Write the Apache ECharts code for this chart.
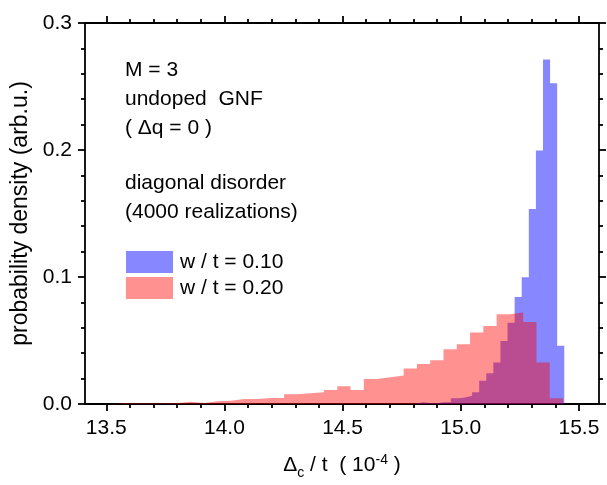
<!DOCTYPE html>
<html>
<head>
<meta charset="utf-8">
<script src="https://cdn.jsdelivr.net/npm/echarts@6/dist/echarts.min.js"></script>
<style>
  html, body { margin: 0; padding: 0; background: #fff; }
  #chart { width: 607px; height: 485px; }
</style>
</head>
<body>
<div id="chart"></div>
<script>
// histogram bins: first left edge, bin width, densities
var blueName = 'w / t = 0.10'
var blueStart = 14.808
var blueWidth = 0.030
var blueValues = [0.0013, 0.0008, 0.0006, 0.0013, 0.0013, 0.0045, 0.0052, 0.0065, 0.0092, 0.0183,
  0.0243, 0.0327, 0.0497, 0.064, 0.0842, 0.0999, 0.1536, 0.1996, 0.2713, 0.2525, 0.0458]

var redName = 'w / t = 0.20'
var redStart = 13.522
var redWidth = 0.0562
var redValues = [0.0005, 0.0005, 0.0005, 0.0005, 0.0008, 0.0018, 0.0008, 0.0021, 0.0026, 0.004,
  0.004, 0.0047, 0.0047, 0.0076, 0.0084, 0.0092, 0.011, 0.0139, 0.011, 0.0196,
  0.021, 0.0225, 0.028, 0.0314, 0.0345, 0.0432, 0.0471, 0.0563, 0.0615, 0.0706,
  0.072, 0.0646, 0.0327, 0.0045]

var xMajorTicks = [13.5, 14.0, 14.5, 15.0, 15.5]
var xMinorTicks = [13.6, 13.7, 13.8, 13.9, 14.1, 14.2, 14.3, 14.4, 14.6, 14.7, 14.8, 14.9,
  15.1, 15.2, 15.3, 15.4]

var notes = ['M = 3', 'undoped  GNF', '( \u0394q = 0 )', 'diagonal disorder', '(4000 realizations)']
var notesY = [70, 99, 128, 183, 212]

var FONT = '"Liberation Sans", Arial, sans-serif'

// step outline of a histogram, used by a step line with filled area
function stepData(start, width, values) {
  var d = [[start, 0]]
  values.forEach(function(v, i) {
    d.push([start + i * width, v])
  })
  var end = start + values.length * width
  d.push([end, values[values.length - 1]])
  d.push([end, 0])
  return d
}

var lineStyle = { color: '#000', width: 1.8 }

function xAxis(position, ticks, len, showLine) {
  return {
    type: 'value',
    position: position,
    min: 13.41,
    max: 15.585,
    axisLine: { show: showLine, lineStyle: lineStyle },
    axisTick: { show: true, inside: false, length: len, customValues: ticks, lineStyle: lineStyle },
    axisLabel: { show: false },
    splitLine: { show: false }
  }
}

function yAxis(position, showLabel) {
  return {
    type: 'value',
    position: position,
    min: 0,
    max: 0.3,
    interval: 0.1,
    axisLine: { show: true, lineStyle: lineStyle },
    axisTick: { show: true, inside: false, length: 7, lineStyle: lineStyle },
    minorTick: { show: true, splitNumber: 5, length: 4, lineStyle: lineStyle },
    axisLabel: {
      show: showLabel,
      margin: 13,
      fontSize: 21,
      fontFamily: FONT,
      color: '#000',
      formatter: function(v) { return v.toFixed(1) }
    },
    splitLine: { show: false },
    minorSplitLine: { show: false }
  }
}

var xMain = xAxis('bottom', xMajorTicks, 7, true)
xMain.axisLabel = {
  show: true,
  customValues: xMajorTicks,
  margin: 14,
  fontSize: 21,
  fontFamily: FONT,
  color: '#000',
  formatter: function(v) { return v.toFixed(1) }
}
xMain.name = '{n|\u0394}{sub|c}{n| / t  ( 10}{sup|-4}{n| )}'
xMain.nameLocation = 'middle'
xMain.nameGap = 48
xMain.nameTextStyle = {
  fontFamily: FONT,
  color: '#000',
  rich: {
    n: { fontSize: 21, fontFamily: FONT, color: '#000', lineHeight: 26 },
    sub: { fontSize: 14, fontFamily: FONT, color: '#000', lineHeight: 14, padding: [16, 0, 0, 0] },
    sup: { fontSize: 14, fontFamily: FONT, color: '#000', lineHeight: 14, padding: [0, 0, 10, 0] }
  }
}

var yMain = yAxis('left', true)
yMain.name = 'probability density (arb.u.)'
yMain.nameLocation = 'middle'
yMain.nameGap = 50
yMain.nameTextStyle = { fontSize: 23, fontFamily: FONT, color: '#000' }

var chart = echarts.init(document.getElementById('chart'))
chart.setOption({
  backgroundColor: '#fff',
  animation: false,
  grid: { left: 85, right: 8, top: 23, bottom: 80 },
  legend: {
    left: 126,
    top: 251,
    padding: 0,
    orient: 'vertical',
    icon: 'rect',
    itemWidth: 47,
    itemHeight: 22,
    itemGap: 4,
    selectedMode: false,
    textStyle: { fontSize: 21, fontFamily: FONT, color: '#000', padding: [0, 0, 0, 2] },
    data: [
      { name: blueName, itemStyle: { color: 'rgba(0,0,255,0.47)' } },
      { name: redName, itemStyle: { color: 'rgba(255,0,0,0.43)' } }
    ]
  },
  xAxis: [
    xMain,
    xAxis('bottom', xMinorTicks, 4, false),
    xAxis('top', xMajorTicks, 7, true),
    xAxis('top', xMinorTicks, 4, false)
  ],
  yAxis: [yMain, yAxis('right', false)],
  graphic: notes.map(function(t, i) {
    return {
      type: 'text',
      x: 125,
      y: notesY[i],
      style: { text: t, fontSize: 21, fontFamily: FONT, fill: '#000', verticalAlign: 'middle' }
    }
  }),
  series: [
    {
      name: blueName,
      type: 'line',
      step: 'end',
      xAxisIndex: 0,
      yAxisIndex: 0,
      showSymbol: false,
      color: 'rgba(0,0,255,0.47)',
      lineStyle: { width: 0 },
      areaStyle: { color: 'rgba(0,0,255,0.47)', opacity: 1 },
      data: stepData(blueStart, blueWidth, blueValues)
    },
    {
      name: redName,
      type: 'line',
      step: 'end',
      xAxisIndex: 0,
      yAxisIndex: 0,
      showSymbol: false,
      color: 'rgba(255,0,0,0.43)',
      lineStyle: { width: 0 },
      areaStyle: { color: 'rgba(255,0,0,0.43)', opacity: 1 },
      data: stepData(redStart, redWidth, redValues)
    }
  ]
})
</script>
</body>
</html>
